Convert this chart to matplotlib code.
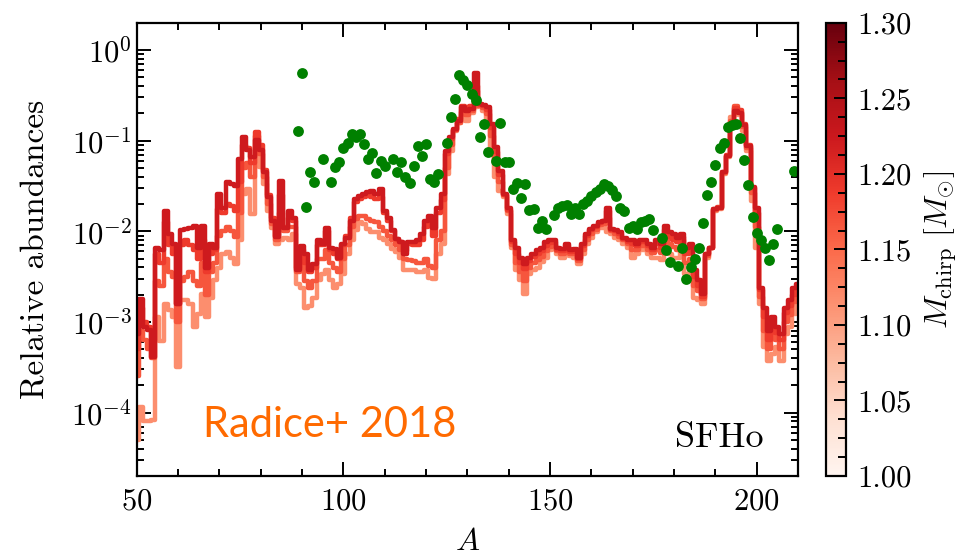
import matplotlib
matplotlib.use('Agg')
import matplotlib.pyplot as plt
import matplotlib as mpl
import numpy as np
from matplotlib.ticker import MultipleLocator, LogLocator, FuncFormatter, NullFormatter

plt.rcParams['font.family'] = 'serif'
plt.rcParams['font.serif'] = ['cmr10']
plt.rcParams['mathtext.fontset'] = 'cm'
plt.rcParams['axes.formatter.use_mathtext'] = True

# mass number grid of the step curves
A = np.arange(50, 211)

# chirp mass of each model (colour)
mchirp = [1.117, 1.166, 1.188, 1.222]

# log10 of relative abundance, A = 50..210
log_salmon = [
    -4.30, -3.94, -4.09, -4.09, -4.08, -2.95, -3.21, -2.80, -2.87, -2.95,
    -3.50, -2.76, -2.76, -2.80, -3.06, -2.91, -2.69, -2.95, -2.73, -2.54,
    -2.40, -2.25, -2.23, -2.29, -2.36, -2.10, -1.59, -1.53, -1.81, -1.07,
    -1.29, -1.48, -1.77, -1.96, -2.14, -2.10, -2.07, -2.10, -2.03, -2.58,
    -2.62, -2.84, -2.82, -2.73, -2.54, -2.47, -2.43, -2.54, -2.62, -2.58,
    -2.47, -2.25, -2.10, -1.99, -1.90, -1.92, -1.97, -2.01, -2.01, -2.07,
    -2.10, -2.14, -2.19, -2.23, -2.29, -2.43, -2.43, -2.43, -2.45, -2.45,
    -2.43, -2.51, -2.53, -2.25, -2.14, -1.37, -1.11, -0.89, -0.80, -0.72,
    -0.78, -0.69, -0.63, -0.61, -0.67, -0.82, -1.11, -1.40, -1.55, -1.62,
    -1.81, -2.18, -2.43, -2.54, -2.69, -2.47, -2.43, -2.40, -2.34, -2.29,
    -2.21, -2.18, -2.25, -2.29, -2.25, -2.27, -2.29, -2.36, -2.25, -2.14,
    -2.07, -2.01, -1.96, -1.96, -2.01, -2.03, -2.07, -2.10, -2.14, -2.18,
    -2.29, -2.25, -2.21, -2.21, -2.25, -2.29, -2.29, -2.32, -2.18, -2.25,
    -2.29, -2.29, -2.18, -2.47, -2.40, -2.73, -2.76, -2.80, -2.29, -2.18,
    -1.77, -1.75, -1.37, -1.18, -0.74, -0.65, -0.72, -0.89, -1.11, -1.66,
    -2.18, -2.80, -3.28, -3.43, -3.35, -3.28, -3.43, -3.13, -3.06, -2.91,
    -2.76]

log_orange = [
    -3.60, -3.10, -3.20, -3.30, -3.40, -2.55, -2.60, -2.30, -2.45, -2.50,
    -3.00, -2.55, -2.50, -2.45, -2.55, -2.60, -2.35, -2.70, -2.45, -2.35,
    -2.05, -2.00, -1.95, -2.00, -2.06, -1.80, -1.30, -1.25, -1.40, -0.95,
    -1.15, -1.40, -1.70, -1.92, -2.10, -1.80, -2.00, -1.95, -1.95, -2.45,
    -2.35, -2.55, -2.62, -2.55, -2.30, -2.30, -2.20, -2.35, -2.40, -2.45,
    -2.30, -2.15, -1.95, -1.86, -1.83, -1.83, -1.86, -1.88, -1.90, -1.95,
    -2.00, -2.05, -2.10, -2.15, -2.20, -2.30, -2.32, -2.33, -2.35, -2.35,
    -2.30, -2.38, -2.40, -2.10, -2.00, -1.30, -1.05, -0.88, -0.80, -0.68,
    -0.72, -0.67, -0.45, -0.62, -0.64, -0.70, -0.95, -1.25, -1.45, -1.60,
    -1.78, -2.15, -2.35, -2.45, -2.55, -2.40, -2.35, -2.32, -2.28, -2.22,
    -2.17, -2.15, -2.22, -2.25, -2.20, -2.25, -2.25, -2.33, -2.20, -2.10,
    -2.03, -1.98, -1.93, -1.92, -1.85, -2.00, -2.03, -2.06, -2.10, -2.14,
    -2.20, -2.20, -2.16, -2.16, -2.20, -2.24, -2.20, -2.24, -2.05, -2.14,
    -2.17, -2.20, -2.10, -2.35, -2.30, -2.60, -2.66, -2.75, -2.27, -2.18,
    -1.76, -1.74, -1.36, -1.17, -0.78, -0.62, -0.68, -0.85, -1.08, -1.58,
    -1.95, -2.72, -3.10, -3.30, -3.15, -3.20, -3.30, -3.00, -2.92, -2.78,
    -2.68]

log_mid = [
    -3.30, -2.85, -3.00, -3.05, -3.20, -2.25, -2.35, -1.90, -2.15, -2.25,
    -2.80, -2.15, -2.10, -2.15, -2.20, -2.30, -2.10, -2.45, -2.25, -2.20,
    -1.75, -1.80, -1.70, -1.72, -1.78, -1.45, -1.05, -1.08, -1.25, -0.90,
    -1.05, -1.32, -1.60, -1.85, -2.05, -1.60, -1.95, -1.85, -1.88, -2.40,
    -2.20, -2.35, -2.45, -2.40, -2.15, -2.15, -2.00, -2.20, -2.25, -2.30,
    -2.15, -2.05, -1.85, -1.68, -1.64, -1.62, -1.60, -1.62, -1.64, -1.62,
    -1.80, -1.88, -2.00, -2.08, -2.12, -2.22, -2.14, -2.15, -2.15, -2.10,
    -1.95, -1.92, -2.05, -1.80, -1.65, -1.15, -0.98, -0.88, -0.76, -0.62,
    -0.65, -0.62, -0.40, -0.60, -0.62, -0.66, -0.86, -1.12, -1.38, -1.60,
    -1.76, -2.12, -2.25, -2.35, -2.42, -2.33, -2.28, -2.25, -2.22, -2.16,
    -2.13, -2.12, -2.20, -2.22, -2.16, -2.23, -2.22, -2.30, -2.16, -2.05,
    -1.99, -1.95, -1.91, -1.89, -1.78, -1.98, -2.00, -2.03, -2.08, -2.12,
    -2.14, -2.16, -2.12, -2.12, -2.16, -2.20, -2.14, -2.18, -1.98, -2.06,
    -2.09, -2.12, -2.06, -2.25, -2.20, -2.50, -2.60, -2.72, -2.25, -2.18,
    -1.75, -1.73, -1.35, -1.16, -0.80, -0.64, -0.66, -0.82, -1.05, -1.52,
    -1.80, -2.65, -2.95, -3.20, -3.05, -3.12, -3.20, -2.90, -2.82, -2.70,
    -2.62]

log_dark = [
    -3.13, -2.75, -3.06, -3.09, -3.39, -2.18, -2.21, -1.77, -2.03, -2.14,
    -2.80, -1.99, -1.97, -1.96, -1.94, -2.18, -1.94, -2.40, -2.14, -2.18,
    -1.59, -1.74, -1.46, -1.48, -1.50, -1.20, -0.96, -1.10, -1.18, -0.99,
    -1.10, -1.35, -1.62, -1.88, -2.06, -1.44, -1.96, -1.77, -1.85, -2.43,
    -2.16, -2.25, -2.43, -2.36, -2.10, -2.14, -1.96, -2.18, -2.19, -2.29,
    -2.14, -2.07, -1.88, -1.64, -1.61, -1.59, -1.57, -1.55, -1.59, -1.53,
    -1.77, -1.85, -1.99, -2.08, -2.12, -2.25, -2.12, -2.12, -2.10, -2.03,
    -1.88, -1.83, -1.96, -1.74, -1.59, -1.11, -0.96, -0.87, -0.78, -0.63,
    -0.67, -0.65, -0.25, -0.60, -0.61, -0.63, -0.82, -1.07, -1.33, -1.59,
    -1.74, -2.10, -2.18, -2.29, -2.36, -2.29, -2.25, -2.21, -2.18, -2.12,
    -2.10, -2.10, -2.18, -2.19, -2.14, -2.21, -2.19, -2.29, -2.14, -2.03,
    -1.97, -1.94, -1.90, -1.88, -1.74, -1.97, -1.99, -2.01, -2.07, -2.10,
    -2.10, -2.14, -2.10, -2.10, -2.14, -2.18, -2.10, -2.14, -1.94, -2.01,
    -2.03, -2.07, -2.03, -2.18, -2.14, -2.43, -2.54, -2.69, -2.25, -2.18,
    -1.75, -1.74, -1.35, -1.17, -0.85, -0.67, -0.69, -0.83, -1.06, -1.51,
    -1.74, -2.62, -2.84, -3.10, -2.95, -3.06, -3.13, -2.84, -2.76, -2.62,
    -2.58]

curves = [log_salmon, log_orange, log_mid, log_dark]

# solar r-process pattern (green dots)
A_sol = [89, 90, 91, 92, 93, 95, 97, 98, 99, 100, 101, 102, 103, 104, 105,
         106, 107, 108, 109, 110, 112, 113, 114, 115, 116, 117, 118, 119,
         120, 121, 122, 123, 125, 126, 127, 128, 129, 130, 131, 132, 133,
         134, 135, 137, 138, 139, 140, 141, 142, 143, 144, 145, 146, 147,
         148, 149, 151, 152, 153, 154, 155, 156, 157, 158, 159, 160, 161,
         162, 163, 164, 165, 166, 167, 168, 169, 170, 171, 172, 173, 174,
         175, 177, 178, 179, 181, 182, 183, 184, 185, 186, 187, 188, 189,
         190, 191, 192, 193, 194, 195, 196, 197, 198, 199, 200, 201, 202,
         203, 204, 205, 209]
log_sol = [-0.89, -0.25, -1.73, -1.35, -1.46, -1.20, -1.46, -1.29, -1.23,
           -1.08, -1.02, -0.93, -0.96, -0.93, -1.04, -1.20, -1.13, -1.36,
           -1.22, -1.28, -1.20, -1.35, -1.24, -1.40, -1.47, -1.28, -1.06,
           -1.17, -1.04, -1.42, -1.46, -1.37, -1.03, -0.74, -0.54, -0.28,
           -0.33, -0.38, -0.48, -0.55, -0.96, -0.82, -1.12, -1.22, -0.80,
           -1.24, -1.24, -1.53, -1.47, -1.63, -1.48, -1.76, -1.75, -1.96,
           -1.88, -1.97, -1.82, -1.74, -1.72, -1.71, -1.81, -1.74, -1.81,
           -1.70, -1.66, -1.61, -1.57, -1.53, -1.48, -1.50, -1.54, -1.61,
           -1.74, -1.77, -1.96, -1.94, -1.97, -1.90, -1.88, -1.86, -1.99,
           -2.07, -2.21, -2.34, -2.38, -2.18, -2.53, -2.39, -2.31, -2.18,
           -1.91, -1.60, -1.45, -1.27, -1.08, -1.03, -0.85, -0.83, -0.81,
           -0.97, -1.21, -1.49, -1.84, -2.02, -2.10, -2.18, -2.32, -2.14,
           -1.97, -1.33]

cbar_ticks = [1.00, 1.05, 1.10, 1.15, 1.20, 1.25, 1.30]

fig = plt.figure(figsize=(9.63, 5.54), dpi=100)
ax = fig.add_axes([0.142, 0.1408, 0.6867, 0.818])
cax = fig.add_axes([0.8577, 0.1408, 0.0205, 0.818])

cmap = plt.get_cmap('Reds')
norm = mpl.colors.Normalize(vmin=1.0, vmax=1.3)

for m, c in zip(mchirp, curves):
    ax.step(A, 10 ** np.array(c), where='mid', color=cmap(norm(m)), lw=3.2)

ax.plot(A_sol, 10 ** np.array(log_sol), 'o', color='green', ms=7.8, mec='none')

ax.set_yscale('log')
ax.set_xlim(50, 210)
ax.set_ylim(2e-5, 2.0)
ax.xaxis.set_major_locator(MultipleLocator(50))
ax.xaxis.set_minor_locator(MultipleLocator(10))
ax.yaxis.set_major_locator(LogLocator(base=10, numticks=10))
ax.yaxis.set_minor_locator(LogLocator(base=10, subs=np.arange(2, 10), numticks=10))
ax.yaxis.set_major_formatter(FuncFormatter(lambda v, p: r'$10^{%d}$' % round(np.log10(v))))
ax.yaxis.set_minor_formatter(NullFormatter())
ax.tick_params(which='both', direction='in', top=True, right=True, labelsize=22, width=1.4)
ax.tick_params(which='major', length=10)
ax.tick_params(which='minor', length=5)
ax.tick_params(axis='x', pad=9)
for s in ax.spines.values():
    s.set_linewidth(1.6)

ax.set_xlabel(r'$A$', fontsize=23, labelpad=9)
ax.set_ylabel('Relative abundances', fontsize=24, labelpad=15)

ax.text(0.1003, 0.086, 'Radice+ 2018', transform=ax.transAxes, fontsize=30,
        color='#ff6a00', family='Lato', ha='left', va='baseline')
ax.text(0.9475, 0.0646, 'SFHo', transform=ax.transAxes, fontsize=26,
        ha='right', va='baseline')

cb = mpl.colorbar.ColorbarBase(cax, cmap=cmap, norm=norm, orientation='vertical')
cb.set_ticks(cbar_ticks)
cb.ax.set_yticklabels(['%.2f' % t for t in cbar_ticks])
cb.ax.yaxis.set_minor_locator(MultipleLocator(0.0125))
cb.ax.tick_params(which='both', direction='in', labelsize=22, width=1.4, pad=8)
cb.ax.tick_params(which='major', length=9)
cb.ax.tick_params(which='minor', length=6)
cb.outline.set_linewidth(1.6)
cb.set_label(r'$M_{\rm chirp}\ [M_{\odot}]$', fontsize=23, labelpad=8)

fig.savefig('out.png', dpi=100)
